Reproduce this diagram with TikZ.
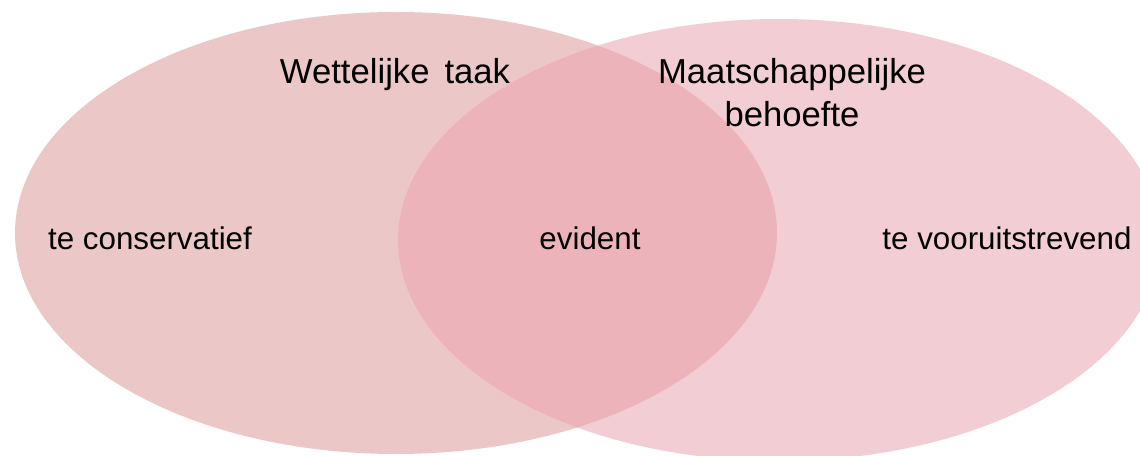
\documentclass[tikz,border=0pt]{standalone}
\usepackage{fontspec}
\setmainfont{Liberation Sans}
\definecolor{leftfill}{RGB}{236,199,199}
\definecolor{rightfill}{RGB}{242,205,212}
\definecolor{overlapfill}{RGB}{236,180,186}
\begin{document}
\begin{tikzpicture}[x=0.75pt,y=-0.75pt,
  title/.style={font=\fontsize{26}{33}\selectfont, anchor=base, align=center, inner sep=0pt},
  body/.style={font=\fontsize{23.5}{28}\selectfont, anchor=base, inner sep=0pt}]
\useasboundingbox (0,0) rectangle (1140,456);
\begin{scope}
\clip (0,0) rectangle (1140,456);
\fill[leftfill] (396,233) ellipse [x radius=381, y radius=221];
\fill[rightfill] (779,240) ellipse [x radius=381, y radius=221];
\begin{scope}
\clip (396,233) ellipse [x radius=381, y radius=221];
\fill[overlapfill] (779,240) ellipse [x radius=381, y radius=221];
\end{scope}
\end{scope}
\node[title] (wt) at (395,84) {Wettelijke\hspace{4pt} taak};
\node[title] (mb1) at (792,84) {Maatschappelijke};
\node[title] (mb2) at (792,127) {behoefte};
\node[body] (tc) at (150,250) {te conservatief};
\node[body] (ev) at (590,250) {evident};
\node[body] (tv) at (1007,250) {te vooruitstrevend};
\end{tikzpicture}
\end{document}
